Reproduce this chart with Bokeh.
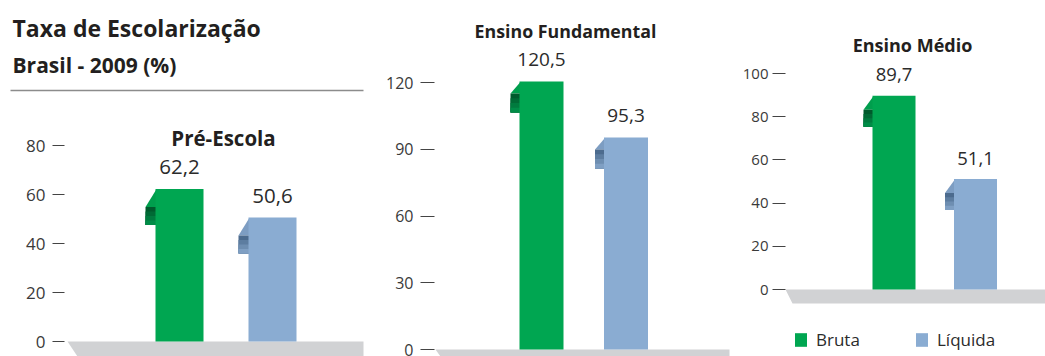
from bokeh.plotting import figure
from bokeh.layouts import row
from bokeh.models import Range1d, FixedTicker, Legend, LegendItem, ColumnDataSource
from bokeh.core.properties import value
from bokeh.embed import file_html
from bokeh.resources import INLINE

# ---------------- data ----------------
title = "Taxa de Escolarização"
subtitle = "Brasil - 2009 (%)"
levels = ["Pré-Escola", "Ensino Fundamental", "Ensino Médio"]
series = ["Bruta", "Líquida"]
bruta = [62.2, 120.5, 89.7]
liquida = [50.6, 95.3, 51.1]
ticks_pre = [0, 20, 40, 60, 80]
ticks_fund = [0, 30, 60, 90, 120]
ticks_med = [0, 20, 40, 60, 80, 100]
tick_sets = [ticks_pre, ticks_fund, ticks_med]

# ---------------- styles ----------------
FONT = "Open Sans"
GREEN = "#00a651"
BLUE = "#8aacd2"
FLOOR = "#d1d2d4"
TEXT = "#2b2b2b"
TICK_TEXT = "#3a3a3a"
GREEN_TAB = ["#005a2c", "#006a35", "#007b3e", "#008c47"]
BLUE_TAB = ["#4c6b8e", "#5d7da0", "#6e8eb1", "#7f9fc3"]
GREEN_SLANT = "#009e4d"
BLUE_SLANT = "#7d9dc2"

# page-pixel layout of each panel
layouts = [
    dict(fig_left=0, top=0, width=370, height=356, frame_left=64, zero=341, ppu=2.45,
         centers=(179, 272), bar_w=48, floor=(67, 363), floor_t=15, slant=10,
         title_x=223, title_mid=137, tick_len=12, standoff=7, val_gap=22,
         tick_fs="17px", val_fs="20.5px", title_fs="20.5px", tab=(10, 18, 36)),
    dict(fig_left=370, top=0, width=365, height=356, frame_left=434, zero=349, ppu=2.225,
         centers=(541, 625.5), bar_w=44, floor=(435, 729), floor_t=14, slant=10,
         title_x=565, title_mid=30, tick_len=14, standoff=7, val_gap=22,
         tick_fs="16px", val_fs="19px", title_fs="17.8px", tab=(9, 12, 31)),
    dict(fig_left=735, top=0, width=310, height=356, frame_left=785, zero=289, ppu=2.16,
         centers=(893.5, 975), bar_w=43, floor=(785, 1045), floor_t=14, slant=7,
         title_x=912, title_mid=44, tick_len=13, standoff=4, val_gap=21,
         tick_fs="15px", val_fs="18.5px", title_fs="18px", tab=(9, 14, 31)),
]


def fmt(v):
    return f"{v:.1f}".replace(".", ",")


def make_panel(i, L):
    H = L["height"]
    ppu = L["ppu"]
    z = L["zero"] - L["top"]
    p = figure(width=L["width"], height=H, output_backend="svg", toolbar_location=None,
               x_range=Range1d(L["frame_left"], L["fig_left"] + L["width"]),
               y_range=Range1d(-(H - z) / ppu, z / ppu),
               x_axis_location=None, y_axis_location="left")
    p.min_border_left = L["frame_left"] - L["fig_left"]
    p.min_border_right = 0
    p.min_border_top = 0
    p.min_border_bottom = 0
    p.grid.visible = False
    p.outline_line_color = None
    p.background_fill_color = "white"
    p.border_fill_color = "white"

    ax = p.yaxis[0]
    ax.ticker = FixedTicker(ticks=tick_sets[i])
    ax.axis_line_color = None
    ax.major_tick_line_color = "#444444"
    ax.major_tick_line_width = 1.2
    ax.major_tick_out = L["tick_len"]
    ax.major_tick_in = 0
    ax.minor_tick_line_color = None
    ax.major_label_standoff = L["standoff"]
    ax.major_label_text_font = FONT
    ax.major_label_text_font_size = L["tick_fs"]
    ax.major_label_text_color = TICK_TEXT

    def py(page_y):
        return (L["zero"] - page_y) / ppu

    # floor
    fl, fr = L["floor"]
    t = L["floor_t"] / ppu
    p.patch([fl, fr, fr, fl + L["slant"]], [0, 0, -t, -t], fill_color=FLOOR, line_color=None)

    # bars with folded tabs
    vals = [bruta[i], liquida[i]]
    colors = [GREEN, BLUE]
    tabs = [GREEN_TAB, BLUE_TAB]
    slants = [GREEN_SLANT, BLUE_SLANT]
    renderers = []
    tw, s_end, d_end = L["tab"]
    for k in range(2):
        cx = L["centers"][k]
        w = L["bar_w"]
        bl = cx - w / 2
        v = vals[k]
        # slanted part of tab
        p.patch([bl - tw, bl + 0.5, bl + 0.5], [v - s_end / ppu, v - 1 / ppu, v - s_end / ppu],
                fill_color=slants[k], line_color=None)
        # gradient part of tab: nested quads, dark at the top, lighter downwards
        n = len(tabs[k])
        step = (d_end - s_end) / n
        src_tab = ColumnDataSource(dict(
            left=[bl - tw] * n, right=[bl + 0.5] * n,
            top=[v - (s_end + j * step) / ppu for j in range(n)],
            bottom=[v - d_end / ppu] * n,
            color=tabs[k]))
        p.quad(left="left", right="right", top="top", bottom="bottom", color="color",
               source=src_tab, line_color=None)
        src = ColumnDataSource(dict(x=[cx], top=[v]))
        r = p.vbar(x="x", top="top", bottom=0, width=w, source=src,
                   fill_color=colors[k], line_color=None)
        renderers.append(r)
        # value label
        p.text(x=[cx], y=[v + L["val_gap"] / ppu], text=[fmt(v)], text_align="center",
               text_baseline="middle", text_font=value(FONT),
               text_font_size=L["val_fs"], text_color=TEXT)

    # panel title
    p.text(x=[L["title_x"]], y=[py(L["title_mid"])], text=[levels[i]],
           text_align="center", text_baseline="middle", text_font=value(FONT),
           text_font_style="bold", text_font_size=L["title_fs"], text_color="#231f20")
    return p, renderers, py


panels = []
rends = []
pys = []
for i, L in enumerate(layouts):
    p, r, py = make_panel(i, L)
    panels.append(p)
    rends.append(r)
    pys.append(py)

# header (chart title) drawn in the first panel, on the overlay level so it is not clipped
p1 = panels[0]
py1 = pys[0]
p1.text(x=[12], y=[py1(27)], text=[title], text_baseline="middle",
        text_font=value(FONT), text_font_style="bold", text_font_size="23px",
        text_color="#231f20", level="overlay")
p1.text(x=[12], y=[py1(64.5)], text=[subtitle], text_baseline="middle",
        text_font=value(FONT), text_font_style="bold", text_font_size="21px",
        text_color="#231f20", level="overlay")
p1.segment(x0=[10], y0=[py1(90)], x1=[363], y1=[py1(90)], line_color="#8c8c8c",
           line_width=1.5, level="overlay")

# legend in the last panel
p3 = panels[2]
legend = Legend(items=[LegendItem(label=series[0], renderers=[rends[2][0]]),
                       LegendItem(label=series[1], renderers=[rends[2][1]])],
                orientation="horizontal", location=(8, 5))
legend.glyph_width = 15
legend.glyph_height = 17
legend.label_standoff = 8
legend.label_width = 98
legend.spacing = 0
legend.padding = 0
legend.margin = 0
legend.border_line_color = None
legend.background_fill_alpha = 0
legend.label_text_font = FONT
legend.label_text_font_size = "17px"
legend.label_text_color = TEXT
p3.add_layout(legend)

layout = row(panels[0], panels[1], panels[2], spacing=0)

open("out.html", "w").write(file_html(layout, INLINE))
